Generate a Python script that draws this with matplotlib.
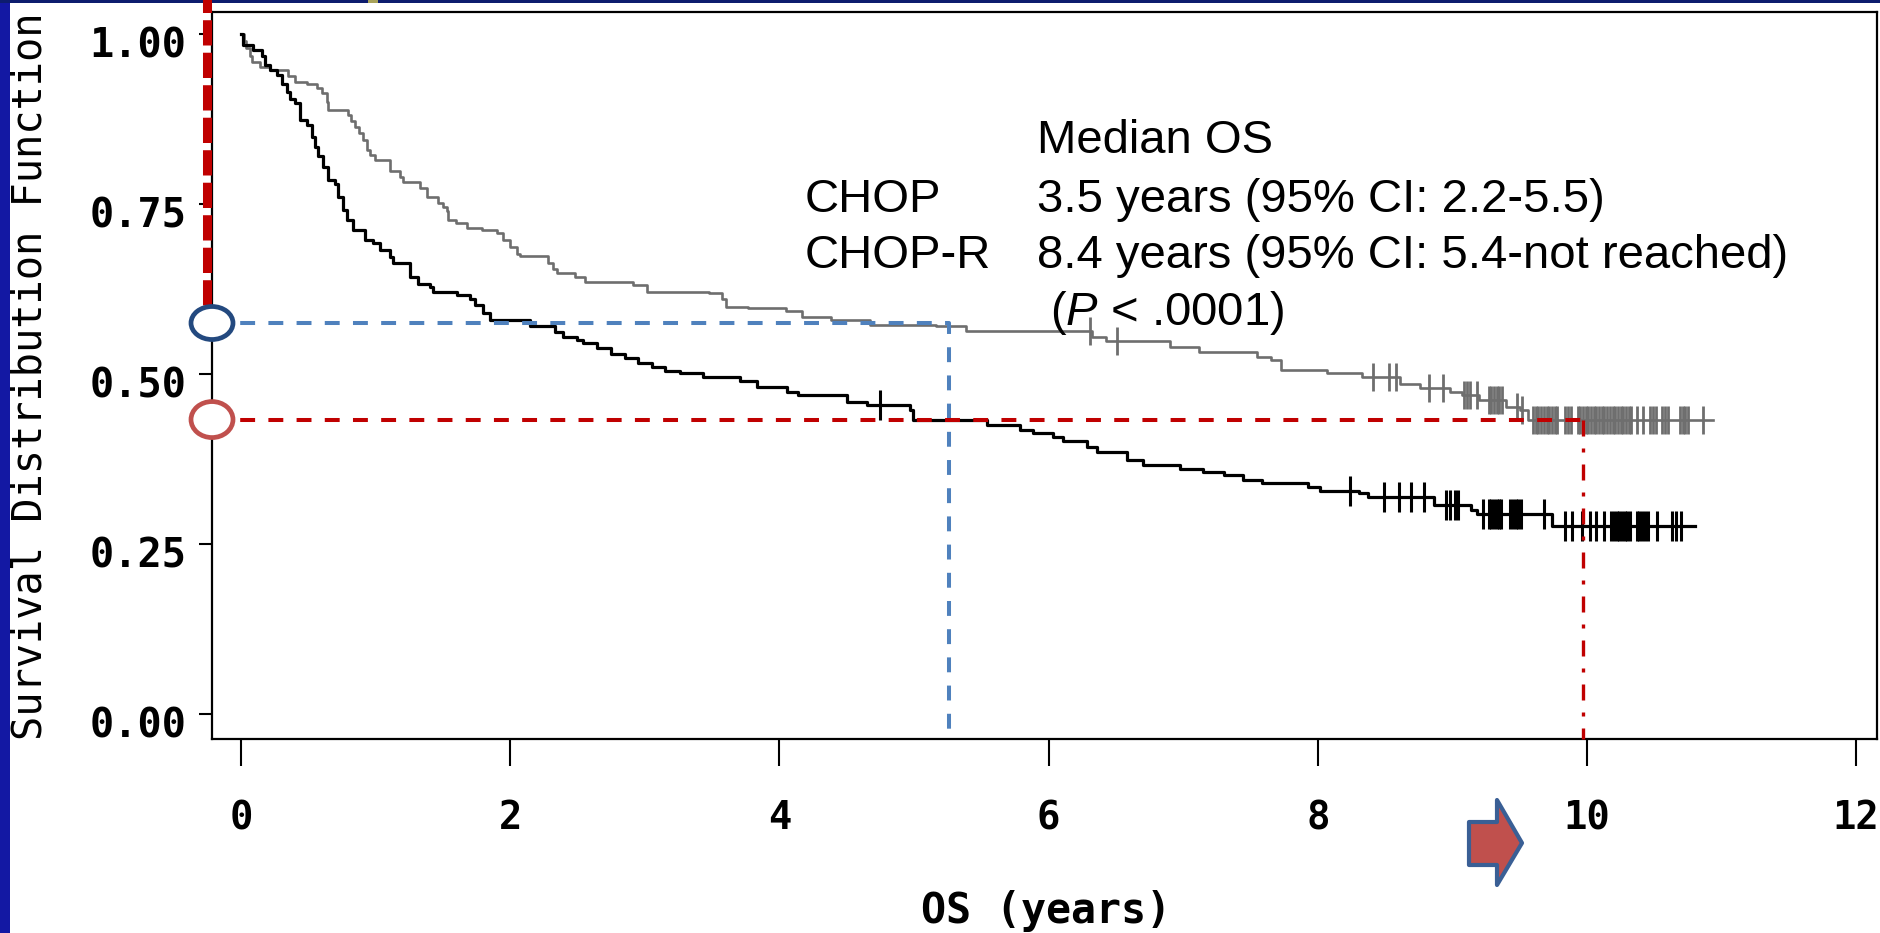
import numpy as np
import matplotlib
matplotlib.use("Agg")
import matplotlib.pyplot as plt
from matplotlib import patches, transforms

W, H, DPI = 1881, 933, 100

# ---- Kaplan-Meier data -------------------------------------------------
# CHOP arm (black): drop times (years) and survival after each drop
chop_t = [0.017, 0.09, 0.154, 0.178, 0.215, 0.265, 0.302, 0.339, 0.364, 0.40,
          0.438, 0.488, 0.525, 0.55, 0.574, 0.612, 0.649, 0.698, 0.723, 0.76,
          0.785, 0.834, 0.921, 0.983, 1.033, 1.107, 1.132, 1.256, 1.317, 1.404,
          1.429, 1.602, 1.70, 1.738, 1.80, 1.85, 2.147, 2.333, 2.395, 2.494,
          2.543, 2.643, 2.75, 2.85, 2.95, 3.05, 3.15, 3.26, 3.435, 3.707,
          3.831, 4.054, 4.14, 4.50, 4.649, 4.97, 4.995, 5.54, 5.787, 5.886,
          6.035, 6.11, 6.283, 6.357, 6.58, 6.70, 6.976, 7.15, 7.30, 7.447,
          7.583, 7.93, 8.016, 8.31, 8.375, 8.86, 9.14, 9.18, 9.74]
chop_s = [0.984, 0.976, 0.967, 0.954, 0.947, 0.940, 0.927, 0.915, 0.905, 0.898,
          0.874, 0.866, 0.849, 0.834, 0.820, 0.805, 0.785, 0.780, 0.761, 0.741,
          0.726, 0.712, 0.697, 0.692, 0.682, 0.672, 0.663, 0.643, 0.633, 0.628,
          0.621, 0.616, 0.611, 0.601, 0.589, 0.579, 0.570, 0.562, 0.555, 0.550,
          0.545, 0.538, 0.530, 0.524, 0.516, 0.510, 0.504, 0.501, 0.496, 0.489,
          0.481, 0.474, 0.469, 0.459, 0.454, 0.447, 0.432, 0.425, 0.418, 0.413,
          0.407, 0.402, 0.393, 0.386, 0.374, 0.366, 0.360, 0.356, 0.351, 0.344,
          0.339, 0.334, 0.328, 0.325, 0.319, 0.307, 0.300, 0.294, 0.276]
chop_end = 10.80
chop_cens = [4.75, 8.24, 8.49, 8.60, 8.69, 8.79, 8.95, 8.98, 9.02, 9.04,
             9.23, 9.27, 9.29, 9.31, 9.33, 9.35, 9.36, 9.43, 9.45, 9.47,
             9.49, 9.51, 9.68, 9.84, 9.89, 9.96, 10.02, 10.07, 10.13, 10.18,
             10.20, 10.22, 10.24, 10.26, 10.28, 10.30, 10.32, 10.37, 10.39,
             10.41, 10.43, 10.45, 10.52, 10.63, 10.66, 10.70]

# CHOP-R arm (grey)
chopr_t = [0.02, 0.04, 0.067, 0.08, 0.141, 0.215, 0.35, 0.40, 0.488, 0.562,
           0.60, 0.636, 0.649, 0.797, 0.82, 0.847, 0.88, 0.909, 0.934, 0.96,
           0.996, 1.107, 1.18, 1.206, 1.33, 1.38, 1.466, 1.50, 1.528, 1.54,
           1.60, 1.677, 1.788, 1.90, 1.949, 1.998, 2.048, 2.073, 2.283, 2.32,
           2.345, 2.481, 2.556, 2.915, 3.014, 3.48, 3.57, 3.60, 3.77, 4.05,
           4.17, 4.38, 4.67, 5.16, 5.39, 6.32, 6.43, 6.90, 7.12, 7.55,
           7.65, 7.73, 8.07, 8.33, 8.61, 8.76, 8.98, 9.07, 9.20, 9.40,
           9.50, 9.56]
chopr_s = [0.990, 0.980, 0.968, 0.959, 0.952, 0.947, 0.938, 0.930, 0.927, 0.920,
           0.913, 0.900, 0.888, 0.881, 0.872, 0.864, 0.854, 0.844, 0.829, 0.822,
           0.815, 0.798, 0.790, 0.783, 0.773, 0.761, 0.751, 0.745, 0.739, 0.726,
           0.722, 0.714, 0.712, 0.707, 0.697, 0.687, 0.677, 0.673, 0.663, 0.655,
           0.648, 0.643, 0.636, 0.631, 0.621, 0.619, 0.611, 0.599, 0.597, 0.592,
           0.584, 0.579, 0.572, 0.570, 0.563, 0.555, 0.548, 0.540, 0.533, 0.525,
           0.521, 0.506, 0.501, 0.496, 0.486, 0.480, 0.474, 0.469, 0.462, 0.452,
           0.447, 0.433]
chopr_end = 10.94
chopr_cens = [6.31, 6.51, 8.41, 8.53, 8.58, 8.83, 8.93, 9.09, 9.11, 9.13,
              9.18, 9.27, 9.29, 9.31, 9.33, 9.35, 9.37, 9.48, 9.52, 9.60,
              9.62, 9.64, 9.66, 9.68, 9.70, 9.72, 9.74, 9.76, 9.78, 9.84,
              9.86, 9.88, 9.93, 9.95, 9.97, 9.99, 10.01, 10.03, 10.05, 10.07,
              10.09, 10.11, 10.13, 10.15, 10.17, 10.19, 10.21, 10.23, 10.25,
              10.27, 10.29, 10.31, 10.33, 10.37, 10.42, 10.47, 10.49, 10.51,
              10.56, 10.58, 10.60, 10.69, 10.71, 10.73, 10.75, 10.86]

x_ticks = [0, 2, 4, 6, 8, 10, 12]
x_ticklabels = ["0", "2", "4", "6", "8", "10", "12"]
y_ticks = [0.00, 0.25, 0.50, 0.75, 1.00]
y_ticklabels = ["0.00", "0.25", "0.50", "0.75", "1.00"]

# survival read-outs marked on the chart
blue_t, blue_s = 5.26, 0.575
red_t, red_s = 9.97, 0.433

legend_head = "Median OS"
arm_names = ["CHOP", "CHOP-R"]
arm_medians = ["3.5 years (95% CI: 2.2-5.5)", "8.4 years (95% CI: 5.4-not reached)"]

plt.rcParams["mathtext.fontset"] = "custom"
plt.rcParams["mathtext.rm"] = "Liberation Sans"
plt.rcParams["mathtext.it"] = "Liberation Sans:italic"

MONO = "DejaVu Sans Mono"
SANS = "Liberation Sans"

fig = plt.figure(figsize=(W / DPI, H / DPI), dpi=DPI, facecolor="#1318a3")

# slide background: blue frame with white content area
fig.patches.append(patches.Rectangle((10 / W, 0), 1 - 10 / W, 1 - 3 / H,
                                     transform=fig.transFigure, facecolor="white",
                                     edgecolor="none", zorder=-10))
fig.patches.append(patches.Rectangle((0, 1 - 3 / H), 1, 3 / H,
                                     transform=fig.transFigure, facecolor="#0d1c6e",
                                     edgecolor="none", zorder=-9))
fig.patches.append(patches.Rectangle((368 / W, 1 - 3 / H), 10 / W, 3 / H,
                                     transform=fig.transFigure, facecolor="#a8a25a",
                                     edgecolor="none", zorder=-8))

ax = fig.add_axes([212 / W, (H - 739) / H, (1877 - 212) / W, (739 - 12) / H])
ax.set_facecolor("none")
x0, x1 = -0.2155, 12.155
y0, y1 = -0.0368, 1.0324
ax.set_xlim(x0, x1)
ax.set_ylim(y0, y1)

for sp in ax.spines.values():
    sp.set_linewidth(1.6)
    sp.set_color("black")


def km_curve(t, s, end):
    times = np.array([0.0] + list(t) + [end])
    surv = np.array([1.0] + list(s) + [s[-1]])
    return times, surv


def censor_y(times, surv, cens):
    idx = np.searchsorted(times, cens, side="right") - 1
    return surv[idx]


ct, cs = km_curve(chop_t, chop_s, chop_end)
rt, rs = km_curve(chopr_t, chopr_s, chopr_end)

ax.step(rt, rs, where="post", color="#6e6e6e", lw=1.9, zorder=3)
ax.step(ct, cs, where="post", color="black", lw=2.3, zorder=4)
ax.plot(chopr_cens, censor_y(rt, rs, chopr_cens), ls="none", marker="|",
        ms=20, mew=2.0, color="#6e6e6e", zorder=3)
ax.plot(chop_cens, censor_y(ct, cs, chop_cens), ls="none", marker="|",
        ms=21, mew=2.2, color="black", zorder=4)

# reference read-outs
ax.plot([x0, blue_t, blue_t], [blue_s, blue_s, y0 + 0.01], color="#4F81BD",
        lw=2.9, ls=(0, (3.7, 3.3)), zorder=5, clip_on=False)
ax.plot([x0, red_t], [red_s, red_s], color="#C00000", lw=2.9,
        ls=(0, (3.7, 3.3)), zorder=5, clip_on=False)
ax.plot([red_t, red_t], [red_s, y0], color="#C00000", lw=2.4,
        ls=(0, (4.8, 3.6, 1.2, 3.6)), zorder=5, clip_on=False)

# thick red dashed marker beside the y axis, above the blue read-out
yax = ax.get_yaxis_transform()
shift = transforms.ScaledTranslation(-5 / DPI, 0, fig.dpi_scale_trans)
ax.plot([0, 0], [blue_s + 0.026, 1.06], transform=yax + shift, color="#C00000",
        lw=6.5, ls=(0, (2.8, 0.8)), clip_on=False, zorder=6)

for val, ec, hgt in [(blue_s, "#23497F", 0.33), (red_s, "#C0504D", 0.36)]:
    tr = fig.dpi_scale_trans + transforms.ScaledTranslation(0, val, yax)
    ax.add_patch(patches.Ellipse((0, 0), 0.42, hgt, transform=tr, facecolor="white",
                                 edgecolor=ec, lw=3.4, clip_on=False, zorder=7))

# axes ticks and labels
ax.set_xticks(x_ticks)
ax.set_xticklabels(x_ticklabels)
ax.set_yticks(y_ticks)
ax.set_yticklabels(y_ticklabels)
ax.tick_params(axis="x", direction="out", length=19.5, width=1.5, pad=24,
               labelsize=28)
ax.tick_params(axis="y", direction="out", length=9.5, width=1.5, pad=9,
               labelsize=29)
down = transforms.ScaledTranslation(0, -8 / DPI, fig.dpi_scale_trans)
for lab in ax.get_xticklabels() + ax.get_yticklabels():
    lab.set_fontfamily(MONO)
    lab.set_fontweight("bold")
for lab in ax.get_yticklabels():
    lab.set_transform(lab.get_transform() + down)

fig.text(31 / W, 1 - 376 / H, "Survival Distribution Function", rotation=90,
         ha="center", va="center", family=MONO, fontsize=29)
fig.text(1046 / W, 1 - 911 / H, "OS (years)", ha="center", va="center",
         family=MONO, fontweight="bold", fontsize=30)

# median OS annotation
fs = 34
fig.text(1037 / W, 1 - 153 / H, legend_head, family=SANS, fontsize=fs, va="baseline")
for i, (nm, md) in enumerate(zip(arm_names, arm_medians)):
    yb = 1 - (212 + 56 * i) / H
    fig.text(805 / W, yb, nm, family=SANS, fontsize=fs, va="baseline")
    fig.text(1037 / W, yb, md, family=SANS, fontsize=fs, va="baseline")
fig.text(1037 / W, 1 - 325 / H, r" ($\mathit{P}$ < .0001)", family=SANS,
         fontsize=fs, va="baseline")

# block arrow pointing at the 10-year tick
arrow_px = [(1469, 822), (1497, 822), (1497, 800), (1522, 843), (1497, 885),
            (1497, 865), (1469, 865)]
fig.patches.append(patches.Polygon([(x / W, 1 - y / H) for x, y in arrow_px],
                                   closed=True, transform=fig.transFigure,
                                   facecolor="#C0504D", edgecolor="#3A5F95",
                                   lw=3, joinstyle="round", zorder=5))

fig.savefig("out.png", dpi=DPI, facecolor=fig.get_facecolor())
